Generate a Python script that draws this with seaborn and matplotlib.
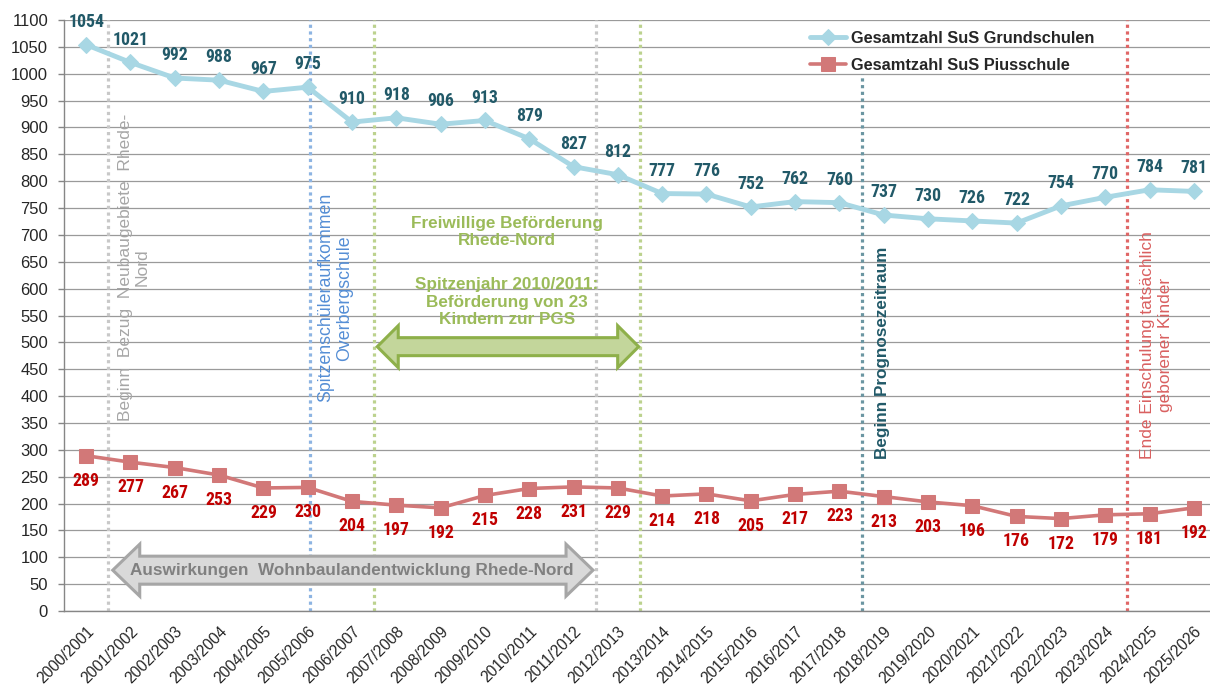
import matplotlib
matplotlib.use("Agg")
import numpy as np
import pandas as pd
import seaborn as sns
import matplotlib.pyplot as plt
from matplotlib import font_manager
from matplotlib.patches import Polygon

# ---------------- data ----------------
years = ["2000/2001", "2001/2002", "2002/2003", "2003/2004", "2004/2005", "2005/2006",
         "2006/2007", "2007/2008", "2008/2009", "2009/2010", "2010/2011", "2011/2012",
         "2012/2013", "2013/2014", "2014/2015", "2015/2016", "2016/2017", "2017/2018",
         "2018/2019", "2019/2020", "2020/2021", "2021/2022", "2022/2023", "2023/2024",
         "2024/2025", "2025/2026"]
grundschulen = [1054, 1021, 992, 988, 967, 975, 910, 918, 906, 913, 879, 827, 812,
                777, 776, 752, 762, 760, 737, 730, 726, 722, 754, 770, 784, 781]
piusschule = [289, 277, 267, 253, 229, 230, 204, 197, 192, 215, 228, 231, 229,
              214, 218, 205, 217, 223, 213, 203, 196, 176, 172, 179, 181, 192]
series_names = ["Gesamtzahl SuS Grundschulen", "Gesamtzahl SuS Piusschule"]
y_ticks = list(range(0, 1101, 50))

# ---------------- fonts ----------------
available = {f.name for f in font_manager.fontManager.ttflist}
def pick(*names):
    for n in names:
        if n in available:
            return n
    return "DejaVu Sans"
REG = pick("Liberation Sans", "Arimo", "DejaVu Sans")
NARROW = pick("Liberation Sans Narrow", "DejaVu Sans Condensed", "Roboto Condensed", "Liberation Sans")

sns.set_theme(style="white")
plt.rcParams["font.family"] = [REG, "DejaVu Sans"]

W, H = 1210, 692
fig = plt.figure(figsize=(W / 100, H / 100), dpi=100)
ax = fig.add_axes([64 / W, 81 / H, 1152 / W, 591 / H])

x = np.arange(len(years))
df = pd.DataFrame({"idx": x, "grund": grundschulen, "pius": piusschule})

c_blue = "#A8D7E4"
c_red = "#D27878"
sns.lineplot(data=df, x="idx", y="grund", ax=ax, color=c_blue, lw=3.5, marker="D",
             markersize=8.5, markeredgecolor=c_blue, label=series_names[0], zorder=5)
sns.lineplot(data=df, x="idx", y="pius", ax=ax, color=c_red, lw=2.6, marker="s",
             markersize=9.5, markeredgecolor=c_red, label=series_names[1], zorder=5)

ax.set_xlim(-0.5, len(years) - 0.5)
ax.set_ylim(0, 1100)
ax.set_yticks(y_ticks)
ax.set_yticklabels([str(v) for v in y_ticks], fontsize=12, color="#262626", family=REG)
ax.set_xticks(x)
ax.set_xticklabels(years, rotation=45, ha="right", rotation_mode="anchor",
                   fontsize=11.2, color="#262626", family=REG)
ax.set_xticks(np.arange(-0.5, len(years), 1.0), minor=True)
ax.tick_params(axis="x", which="major", length=0, pad=9)
ax.tick_params(axis="x", which="minor", length=4.5, color="#868686", width=1)
ax.tick_params(axis="y", length=4.5, color="#868686", width=1, pad=7, left=True)
ax.set_xlabel("")
ax.set_ylabel("")
ax.grid(axis="y", color="#9A9A9A", lw=0.9)
ax.grid(axis="x", visible=False)
for s in ["top", "right"]:
    ax.spines[s].set_visible(False)
for s in ["left", "bottom"]:
    ax.spines[s].set_color("#868686")
    ax.spines[s].set_linewidth(1)

# data labels
for i, v in enumerate(grundschulen):
    ax.annotate(str(v), (i, v), xytext=(0, 16.5), textcoords="offset points",
                ha="center", va="center", fontsize=12.8, fontweight="bold",
                color="#215968", family=NARROW, zorder=6)
for i, v in enumerate(piusschule):
    ax.annotate(str(v), (i, v), xytext=(0, -18), textcoords="offset points",
                ha="center", va="center", fontsize=12.8, fontweight="bold",
                color="#C00000", family=NARROW, zorder=6)

# vertical dotted markers
dot = (0, (1, 1.1))
vlines = [(0.5, 1100, "#C8C8C8"), (5.05, 1100, "#8DB4E2"), (6.5, 1100, "#BCD28E"),
          (11.5, 1100, "#C8C8C8"), (12.5, 1100, "#BCD28E"), (17.5, 1000, "#6B96A2"),
          (23.5, 1100, "#E06666")]
for xv, ytop, col in vlines:
    ax.plot([xv, xv], [0, ytop], ls=dot, lw=2.3, color=col, zorder=2)

# rotated annotations
ax.text(1.08, 640, "Beginn  Bezug  Neubaugebiete  Rhede-\nNord", rotation=90,
        ha="center", va="center", multialignment="center", fontsize=12.5,
        color="#A6A6A6", family=REG, linespacing=1.12)
ax.text(5.62, 583, "Spitzenschüleraufkommen\nOverbergschule", rotation=90,
        ha="center", va="center", multialignment="center", fontsize=12.8,
        color="#558ED5", family=REG, linespacing=1.12)
ax.text(17.97, 480, "Beginn Prognosezeitraum", rotation=90,
        ha="center", va="center", fontsize=12.3, fontweight="bold",
        color="#215968", family=REG)
ax.text(24.15, 495, "Ende Einschulung tatsächlich\ngeborener Kinder", rotation=90,
        ha="center", va="center", multialignment="center", fontsize=12.5,
        color="#D96060", family=REG, linespacing=1.25)
ax.text(9.5, 705, "Freiwillige Beförderung\nRhede-Nord", ha="center", va="center",
        fontsize=12.3, fontweight="bold", color="#9BBB59", family=REG, linespacing=1.15)
ax.text(9.5, 575, "Spitzenjahr 2010/2011:\nBeförderung von 23\nKindern zur PGS",
        ha="center", va="center", fontsize=12.3, fontweight="bold", color="#9BBB59",
        family=REG, linespacing=1.2)

# block arrows (sizes in pixels converted to data units)
px_x = 1.0 / (ax.transData.transform((1, 0))[0] - ax.transData.transform((0, 0))[0])
px_y = 1.0 / (ax.transData.transform((0, 1))[1] - ax.transData.transform((0, 0))[1])

def darrow(x0, x1, yc, body, head, hl, fc, ec, lw):
    bh, hh, hlx = body / 2 * px_y, head / 2 * px_y, hl * px_x
    pts = [(x0, yc), (x0 + hlx, yc + hh), (x0 + hlx, yc + bh), (x1 - hlx, yc + bh),
           (x1 - hlx, yc + hh), (x1, yc), (x1 - hlx, yc - hh), (x1 - hlx, yc - bh),
           (x0 + hlx, yc - bh), (x0 + hlx, yc - hh)]
    ax.add_patch(Polygon(pts, closed=True, fc=fc, ec=ec, lw=lw, joinstyle="miter", zorder=4))

darrow(6.57, 12.47, 492, 18, 42, 21, "#C3D69B", "#8EB04A", 2.2)
darrow(0.6, 11.44, 76, 28, 52, 27, "#D9D9D9", "#A6A6A6", 2.2)
ax.text(6.0, 76, "Auswirkungen  Wohnbaulandentwicklung Rhede-Nord", ha="center",
        va="center", fontsize=12.3, fontweight="bold", color="#808080", family=REG, zorder=6)

# legend
leg = ax.legend(loc="upper left", bbox_to_anchor=(795 / W, 1 - 16 / H),
                bbox_transform=fig.transFigure, frameon=False,
                handlelength=2.2, handletextpad=0.3, labelspacing=0.75,
                prop={"family": REG, "weight": "bold", "size": 11.8})

fig.savefig("out.png", dpi=100)
